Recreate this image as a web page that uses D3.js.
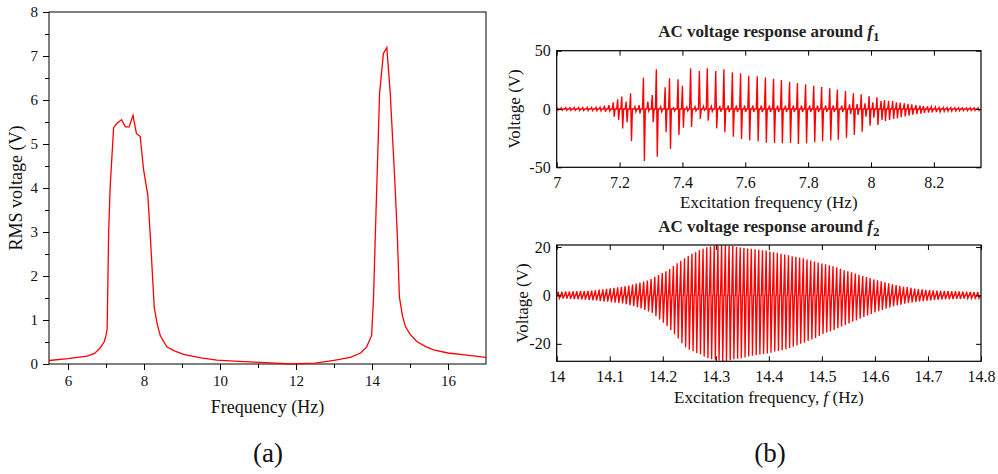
<!DOCTYPE html>
<html>
<head>
<meta charset="utf-8">
<script src="https://cdn.jsdelivr.net/npm/d3@7"></script>
<style>
  body { margin: 0; background: #fff; }
  svg { display: block; }
</style>
</head>
<body>
<svg width="998" height="474"></svg>
<script>
// (a) RMS voltage vs frequency
const freqA = [5.5, 6.0, 6.5, 6.7, 6.85, 6.95, 7.0, 7.03, 7.07, 7.11, 7.2, 7.29, 7.41, 7.51, 7.61, 7.71, 7.8, 7.9, 7.99, 8.1, 8.17, 8.27, 8.35, 8.43, 8.6, 8.8, 9.04, 9.5, 9.92, 10.5, 11.2, 11.85, 12.5, 13.0, 13.43, 13.7, 13.86, 13.99, 14.04, 14.09, 14.2, 14.3, 14.39, 14.48, 14.6, 14.67, 14.72, 14.8, 14.88, 15.0, 15.18, 15.4, 15.62, 16.0, 16.5, 17.0];
const rmsA = [0.08, 0.12, 0.18, 0.24, 0.37, 0.5, 0.65, 0.8, 3.0, 4.03, 5.37, 5.47, 5.55, 5.39, 5.39, 5.65, 5.24, 5.17, 4.41, 3.84, 2.85, 1.28, 0.9, 0.64, 0.39, 0.3, 0.22, 0.14, 0.09, 0.06, 0.03, 0.0, 0.02, 0.08, 0.15, 0.25, 0.39, 0.65, 1.5, 3.0, 6.15, 7.06, 7.19, 6.15, 4.18, 2.85, 1.53, 1.1, 0.85, 0.68, 0.51, 0.4, 0.32, 0.25, 0.2, 0.15];

// (b) top: AC voltage around f1, one entry per cycle
const f1Freq = [7.001, 7.015, 7.029, 7.042, 7.056, 7.070, 7.083, 7.097, 7.111, 7.125, 7.138, 7.152, 7.166, 7.180, 7.194, 7.207, 7.221, 7.235, 7.249, 7.262, 7.276, 7.290, 7.304, 7.317, 7.331, 7.345, 7.359, 7.372, 7.386, 7.400, 7.414, 7.426, 7.440, 7.454,
  7.467, 7.479, 7.492, 7.506, 7.519, 7.532, 7.546, 7.559, 7.572, 7.585, 7.598, 7.611, 7.624, 7.638, 7.651, 7.664, 7.677, 7.690, 7.703, 7.715, 7.728, 7.741, 7.753, 7.766, 7.779, 7.792, 7.805, 7.818, 7.830, 7.843, 7.856, 7.869, 7.880, 7.893, 7.907, 7.919,
  7.932, 7.944, 7.956, 7.969, 7.981, 7.994, 8.006, 8.019, 8.032, 8.043, 8.056, 8.069, 8.081, 8.093, 8.106, 8.118, 8.130, 8.143, 8.156, 8.167, 8.180, 8.192, 8.205, 8.217, 8.230, 8.242, 8.254, 8.267, 8.279, 8.291, 8.304, 8.316, 8.328, 8.341];
const f1Up = [1.0, 1.0, 1.1, 1.1, 1.1, 1.2, 1.2, 1.3, 1.4, 1.5, 1.6, 2.9, 3.4, 5.7, 8.3, 10.6, 6.3, 13.4, 2.0, 3.4, 26.9, 6.3, 12.0, 34.0, 2.0, 18.6, 26.3, 1.1, 25.4, 20.0, 1.7, 34.9, 2.0, 32.6,
  2.3, 34.9, 2.3, 32.6, 2.6, 34.0, 3.0, 31.4, 3.0, 30.6, 3.0, 28.6, 3.0, 28.0, 3.0, 27.1, 3.0, 26.0, 3.0, 24.9, 3.0, 23.4, 3.0, 22.3, 3.0, 21.1, 3.0, 20.0, 3.0, 18.9, 3.0, 17.7, 3.0, 16.6, 3.0, 15.4,
  4.0, 13.4, 4.3, 12.6, 4.9, 11.1, 5.7, 10.0, 6.9, 7.7, 7.1, 6.9, 5.7, 5.4, 4.9, 4.3, 4.0, 3.4, 2.9, 2.6, 2.3, 2.0, 1.7, 1.4, 1.3, 1.2, 1.2, 1.1, 1.1, 1.0, 1.0, 1.0, 1.0, 1.0];
const f1Down = [-1.0, -1.0, -1.1, -1.1, -1.1, -1.2, -1.2, -1.3, -1.4, -1.5, -1.6, -2.3, -1.7, -6.6, -9.4, -16.6, -11.4, -27.4, -2.3, -3.7, -44.6, -1.7, -11.4, -40.9, -2.3, -20.0, -34.3, -1.7, -22.3, -16.0, -1.7, -15.4, -1.7, -8.6,
  -1.1, -10.0, -2.0, -16.6, -2.3, -20.0, -2.6, -23.7, -2.6, -25.7, -2.6, -26.9, -2.6, -27.7, -2.6, -28.9, -2.6, -29.1, -2.6, -29.4, -2.6, -29.1, -2.6, -30.0, -2.6, -29.4, -2.6, -28.6, -2.6, -27.7, -2.6, -27.1, -2.6, -26.3, -2.6, -24.6,
  -4.3, -22.3, -5.0, -19.4, -6.6, -14.3, -7.4, -13.7, -9.4, -10.3, -9.4, -8.6, -8.0, -7.1, -6.3, -5.7, -4.9, -4.3, -4.0, -3.4, -3.1, -2.9, -2.6, -2.3, -2.0, -1.8, -1.7, -1.6, -1.5, -1.4, -1.4, -1.3, -1.3, -1.3];

// (b) bottom: AC voltage around f2, one entry per cycle
const f2Freq = [14.003, 14.010, 14.017, 14.024, 14.031, 14.038, 14.045, 14.052, 14.059, 14.066,
  14.073, 14.080, 14.087, 14.094, 14.101, 14.108, 14.115, 14.122, 14.129, 14.136,
  14.143, 14.150, 14.157, 14.164, 14.171, 14.178, 14.185, 14.192, 14.199, 14.206,
  14.213, 14.220, 14.227, 14.234, 14.241, 14.248, 14.255, 14.262, 14.269, 14.276,
  14.283, 14.290, 14.297, 14.304, 14.311, 14.318, 14.325, 14.332, 14.339, 14.346,
  14.353, 14.360, 14.367, 14.374, 14.381, 14.388, 14.395, 14.402, 14.409, 14.416,
  14.423, 14.430, 14.437, 14.444, 14.451, 14.458, 14.465, 14.472, 14.479, 14.486,
  14.493, 14.500, 14.507, 14.514, 14.521, 14.528, 14.535, 14.542, 14.549, 14.556,
  14.563, 14.570, 14.577, 14.584, 14.591, 14.598, 14.605, 14.612, 14.619, 14.626,
  14.633, 14.640, 14.647, 14.654, 14.661, 14.668, 14.675, 14.682, 14.689, 14.696,
  14.703, 14.710, 14.717, 14.724, 14.731, 14.738, 14.745, 14.752, 14.759, 14.766,
  14.773, 14.780, 14.787, 14.794];
const f2Up = [1.5, 1.5, 1.6, 1.6, 1.7, 1.7, 1.8, 1.8, 1.9, 2.0,
  2.2, 2.4, 2.5, 2.7, 2.9, 3.1, 3.3, 3.5, 3.8, 4.1,
  4.5, 4.9, 5.3, 5.7, 6.1, 6.8, 7.7, 8.4, 9.2, 10.0,
  10.9, 12.1, 13.3, 14.3, 15.3, 16.3, 17.2, 17.8, 18.7, 19.3,
  19.9, 20.2, 20.5, 20.7, 20.7, 20.7, 20.5, 20.4, 20.0, 19.8,
  19.6, 19.4, 19.2, 19.0, 18.8, 18.6, 18.5, 18.1, 17.8, 17.6,
  17.2, 16.9, 16.6, 16.2, 15.9, 15.6, 15.3, 14.8, 14.4, 14.0,
  13.6, 13.2, 12.8, 12.4, 12.0, 11.6, 11.0, 10.4, 10.0, 9.5,
  9.0, 8.5, 8.0, 7.6, 7.2, 6.6, 6.2, 5.8, 5.4, 5.0,
  4.6, 4.3, 3.9, 3.6, 3.4, 3.1, 2.8, 2.6, 2.5, 2.3,
  2.2, 2.1, 2.0, 1.9, 1.9, 1.8, 1.7, 1.7, 1.6, 1.6,
  1.5, 1.5, 1.4, 1.4];
const f2Down = [-1.2, -1.3, -1.3, -1.4, -1.5, -1.6, -1.7, -1.8, -1.9, -2.0,
  -2.1, -2.3, -2.5, -2.6, -2.8, -3.0, -3.1, -3.3, -3.6, -4.0,
  -4.4, -4.9, -5.4, -6.0, -6.6, -7.2, -8.6, -9.9, -11.3, -12.6,
  -14.3, -16.0, -17.8, -19.7, -21.4, -22.4, -23.0, -23.8, -24.3, -25.2,
  -25.9, -26.3, -26.6, -26.9, -27.1, -27.1, -26.8, -26.3, -26.1, -25.9,
  -25.6, -25.2, -24.9, -24.6, -24.4, -24.2, -24.0, -23.7, -23.2, -22.9,
  -22.6, -22.2, -21.7, -21.2, -20.7, -20.0, -19.5, -18.8, -18.2, -17.6,
  -16.8, -15.9, -15.3, -14.8, -14.3, -13.6, -12.8, -12.2, -11.6, -10.8,
  -10.3, -9.6, -8.9, -8.3, -7.7, -7.0, -6.5, -6.0, -5.5, -5.0,
  -4.5, -4.1, -3.8, -3.4, -3.1, -2.9, -2.7, -2.5, -2.4, -2.2,
  -2.1, -1.9, -1.8, -1.7, -1.6, -1.6, -1.5, -1.4, -1.4, -1.3,
  -1.2, -1.2, -1.1, -1.1];

const xTicksA = [6, 8, 10, 12, 14, 16];
const xMinorA = [7, 9, 11, 13, 15];
const yTicksA = [0, 1, 2, 3, 4, 5, 6, 7, 8];
const yMinorA = [0.5, 1.5, 2.5, 3.5, 4.5, 5.5, 6.5, 7.5];
const xTicks1 = [7, 7.2, 7.4, 7.6, 7.8, 8, 8.2];
const yTicks1 = [-50, 0, 50];
const xTicks2 = [14, 14.1, 14.2, 14.3, 14.4, 14.5, 14.6, 14.7, 14.8];
const yTicks2 = [-20, 0, 20];

const serif = "'Liberation Serif', 'Times New Roman', Tinos, 'DejaVu Serif', serif";
const svg = d3.select("svg").attr("font-family", serif);
const red = "#ff0000";

function fixAxis(g, size) {
  g.attr("font-family", null).attr("font-size", null);
  g.selectAll(".tick text").attr("font-family", serif).attr("font-size", size).attr("fill", "#111");
}

// ---------- panel (a) ----------
const xA = d3.scaleLinear().domain([5.5, 17]).range([49, 486]);
const yA = d3.scaleLinear().domain([0, 8]).range([364, 12]);
const gA = svg.append("g");

gA.append("rect")
  .attr("x", 49).attr("y", 12)
  .attr("width", 486 - 49).attr("height", 364 - 12)
  .attr("fill", "none").attr("stroke", "#000").attr("stroke-width", 1);

gA.append("g").attr("transform", "translate(0,364)")
  .call(d3.axisBottom(xA).tickValues(xMinorA).tickSize(4).tickFormat(""));
gA.append("g").attr("transform", "translate(0,364)")
  .call(d3.axisBottom(xA).tickValues(xTicksA).tickSize(6).tickPadding(5).tickFormat(d3.format("d")));
gA.append("g").attr("transform", "translate(49,0)")
  .call(d3.axisLeft(yA).tickValues(yMinorA).tickSize(4).tickFormat(""));
gA.append("g").attr("transform", "translate(49,0)")
  .call(d3.axisLeft(yA).tickValues(yTicksA).tickSize(6).tickPadding(5).tickFormat(d3.format("d")));

gA.selectAll(".domain").remove();
gA.selectAll("g").each(function () { fixAxis(d3.select(this), 15); });

gA.append("path")
  .datum(freqA.map((f, i) => [f, rmsA[i]]))
  .attr("fill", "none").attr("stroke", red).attr("stroke-width", 1.3)
  .attr("d", d3.line().x(d => xA(d[0])).y(d => yA(d[1])));

gA.append("text").attr("x", 267.5).attr("y", 413).attr("fill", "#111")
  .attr("text-anchor", "middle").attr("font-size", 18).text("Frequency (Hz)");
gA.append("text").attr("transform", "translate(22,188) rotate(-90)").attr("fill", "#111")
  .attr("text-anchor", "middle").attr("font-size", 18).text("RMS voltage (V)");
svg.append("text").attr("x", 268).attr("y", 462).attr("fill", "#111")
  .attr("text-anchor", "middle").attr("font-size", 27).text("(a)");

// ---------- panels (b) ----------
function spikes(freqs, ups, downs, dx) {
  const pts = [];
  freqs.forEach((f, i) => {
    pts.push([f - dx, 0], [f, ups[i]], [f + dx, downs[i]], [f + 2 * dx, 0]);
  });
  return pts;
}

function panel(opts) {
  const { x0, x1, y0, y1, xDomain, yDomain, xTicks, yTicks, pts, title, sub, xlabel, xlabelItalic, ylabelX, titleY, xlabelY, clipId } = opts;
  const x = d3.scaleLinear().domain(xDomain).range([x0, x1]);
  const y = d3.scaleLinear().domain(yDomain).range([y1, y0]);
  const g = svg.append("g");

  g.append("clipPath").attr("id", clipId)
    .append("rect").attr("x", x0).attr("y", y0).attr("width", x1 - x0).attr("height", y1 - y0);

  g.append("path")
    .datum(pts)
    .attr("clip-path", `url(#${clipId})`)
    .attr("fill", "none").attr("stroke", red).attr("stroke-width", 1.35)
    .attr("d", d3.line().x(d => x(d[0])).y(d => y(d[1])));

  const axes = [
    g.append("g").attr("transform", `translate(0,${y1})`)
      .call(d3.axisBottom(x).tickValues(xTicks).tickSizeInner(-5).tickSizeOuter(0).tickPadding(9).tickFormat(d => String(d))),
    g.append("g").attr("transform", `translate(0,${y0})`)
      .call(d3.axisTop(x).tickValues(xTicks).tickSizeInner(-5).tickSizeOuter(0).tickFormat("")),
    g.append("g").attr("transform", `translate(${x0},0)`)
      .call(d3.axisLeft(y).tickValues(yTicks).tickSizeInner(-5).tickSizeOuter(0).tickPadding(6).tickFormat(d => String(d))),
    g.append("g").attr("transform", `translate(${x1},0)`)
      .call(d3.axisRight(y).tickValues(yTicks).tickSizeInner(-5).tickSizeOuter(0).tickFormat(""))
  ];
  axes.forEach(a => fixAxis(a, 16));
  g.selectAll(".domain").remove();

  g.append("rect")
    .attr("x", x0).attr("y", y0).attr("width", x1 - x0).attr("height", y1 - y0)
    .attr("fill", "none").attr("stroke", "#000").attr("stroke-width", 1.2);

  const cx = (x0 + x1) / 2;
  const t = g.append("text").attr("x", cx).attr("y", titleY).attr("fill", "#222")
    .attr("text-anchor", "middle").attr("font-size", 17).attr("font-weight", "bold");
  t.append("tspan").text(title + " ");
  t.append("tspan").attr("font-style", "italic").text("f");
  t.append("tspan").attr("font-size", 13).attr("dy", 4).text(sub);

  const xl = g.append("text").attr("x", cx).attr("y", xlabelY).attr("fill", "#111")
    .attr("text-anchor", "middle").attr("font-size", 17);
  if (xlabelItalic) {
    xl.append("tspan").text(xlabel[0]);
    xl.append("tspan").attr("font-style", "italic").text("f");
    xl.append("tspan").text(xlabel[1]);
  } else {
    xl.text(xlabel[0]);
  }

  g.append("text").attr("transform", `translate(${ylabelX},${(y0 + y1) / 2}) rotate(-90)`).attr("fill", "#111")
    .attr("text-anchor", "middle").attr("font-size", 17).text("Voltage (V)");
}

panel({
  x0: 556.7, x1: 981, y0: 50.7, y1: 167.3,
  xDomain: [7, 8.35], yDomain: [-50, 50],
  xTicks: xTicks1, yTicks: yTicks1,
  pts: spikes(f1Freq, f1Up, f1Down, 0.003),
  title: "AC voltage response around", sub: "1",
  xlabel: ["Excitation frequency (Hz)"], xlabelItalic: false,
  ylabelX: 520, titleY: 37, xlabelY: 208, clipId: "clip1"
});

panel({
  x0: 556.7, x1: 981, y0: 245, y1: 361.3,
  xDomain: [14, 14.8], yDomain: [-27.2, 20.8],
  xTicks: xTicks2, yTicks: yTicks2,
  pts: spikes(f2Freq, f2Up, f2Down, 0.0021),
  title: "AC voltage response around", sub: "2",
  xlabel: ["Excitation frequency,  ", " (Hz)"], xlabelItalic: true,
  ylabelX: 528, titleY: 231.5, xlabelY: 403, clipId: "clip2"
});

svg.append("text").attr("x", 770).attr("y", 462).attr("fill", "#111")
  .attr("text-anchor", "middle").attr("font-size", 27).text("(b)");
</script>
</body>
</html>
